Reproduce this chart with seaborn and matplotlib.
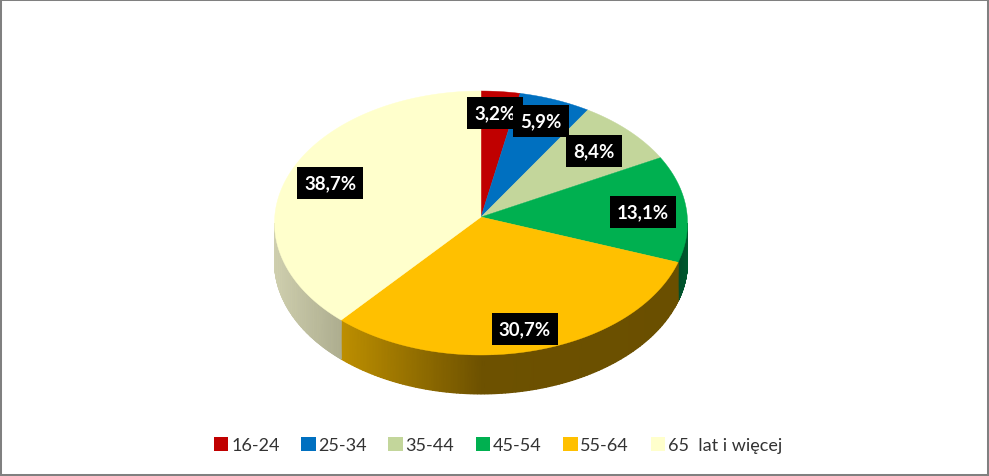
import numpy as np
import matplotlib
matplotlib.use('Agg')
import matplotlib.pyplot as plt
from matplotlib.colors import LinearSegmentedColormap
from matplotlib.patches import Patch
import seaborn as sns

# dane
kategorie = ['16-24', '25-34', '35-44', '45-54', '55-64', '65  lat i więcej']
udzialy = [3.2, 5.9, 8.4, 13.1, 30.7, 38.7]
etykiety = ['3,2%', '5,9%', '8,4%', '13,1%', '30,7%', '38,7%']
kolory = ['#c00000', '#0070c0', '#c3d69b', '#00b050', '#ffc000', '#ffffcc']

# geometria "3D" w pikselach obrazka: elipsa i wierzcholek tortu (perspektywa)
CX, CY = 481, 224
RX, RY = 206.5, 132
APEX_Y = 218
SKOS = np.radians(3)
GLEBOKOSC = 39
R_ETYKIETY = 0.8
przesuniecia = [(-1.7, -3.7), (0.9, -2.2), (-5.3, 2.9), (-2.2, 2), (0.2, 5.4), (1, 2.6)]

# gradienty bocznej scianki (tylko przednia polowa tortu)
sciany = {
    3: [(0, '#004f2a'), (1, '#00592f')],
    4: [(0, '#bd8f00'), (0.42, '#6d5100'), (1, '#6a4f00')],
    5: [(0, '#cfcfae'), (1, '#aeae90')],
}


def perspektywa(kat):
    # kat tortu -> kat na elipsie
    return kat - SKOS * np.sin(kat)


def punkt(u):
    # u w radianach, od gory zgodnie z zegarem
    return CX + RX * np.sin(u), CY - RY * np.cos(u)


sns.set_theme(style='white')
plt.rcParams['font.family'] = ['Lato', 'DejaVu Sans']

fig = plt.figure(figsize=(9.89, 4.77), dpi=100)
ax = fig.add_axes([0, 0, 1, 1])
ax.set_xlim(0, 989)
ax.set_ylim(477, 0)
ax.set_xticks([])
ax.set_yticks([])

paleta = sns.color_palette(kolory)
granice = perspektywa(np.cumsum([0] + udzialy) / sum(udzialy) * 2 * np.pi)

# scianki boczne
for i, gradient in sciany.items():
    start = max(granice[i], np.pi / 2)
    stop = min(granice[i + 1], 3 * np.pi / 2)
    katy = np.linspace(start, stop, 120)
    x, y = punkt(katy)
    X = np.vstack([x, x])
    Y = np.vstack([y, y + GLEBOKOSC])
    cmap = LinearSegmentedColormap.from_list(f'sciana{i}', gradient)
    ax.pcolormesh(X, Y, X, cmap=cmap, shading='gouraud', zorder=1)

# wierzch tortu
for i, kolor in enumerate(paleta):
    katy = np.linspace(granice[i], granice[i + 1], 200)
    x, y = punkt(katy)
    ax.fill(np.r_[CX, x], np.r_[APEX_Y, y], color=kolor, lw=0.3, zorder=2)

# etykiety
udzial_skum = np.cumsum([0] + udzialy) / sum(udzialy) * 2 * np.pi
for i, tekst in enumerate(etykiety):
    srodek = perspektywa((udzial_skum[i] + udzial_skum[i + 1]) / 2)
    xr, yr = punkt(srodek)
    x = CX + (xr - CX) * R_ETYKIETY + przesuniecia[i][0]
    y = APEX_Y + (yr - APEX_Y) * R_ETYKIETY + przesuniecia[i][1]
    ax.text(x, y, tekst, color='white', fontsize=13.5, fontweight='bold',
            ha='center', va='center', zorder=3 + i,
            bbox=dict(facecolor='black', edgecolor='none', boxstyle='square,pad=0.38'))

# legenda
uchwyty = [Patch(facecolor=k, edgecolor='none') for k in paleta]
ax.legend(uchwyty, kategorie, ncol=6, loc='center', bbox_to_anchor=(498, 446),
          bbox_transform=ax.transData, frameon=False, fontsize=13,
          handlelength=0.8, handleheight=0.8, handletextpad=0.15,
          columnspacing=1.19, labelcolor='#333333')

for s in ax.spines.values():
    s.set_visible(True)
    s.set_color('#808080')
    s.set_linewidth(2.9)

plt.savefig('out.png', dpi=100)
plt.close()
